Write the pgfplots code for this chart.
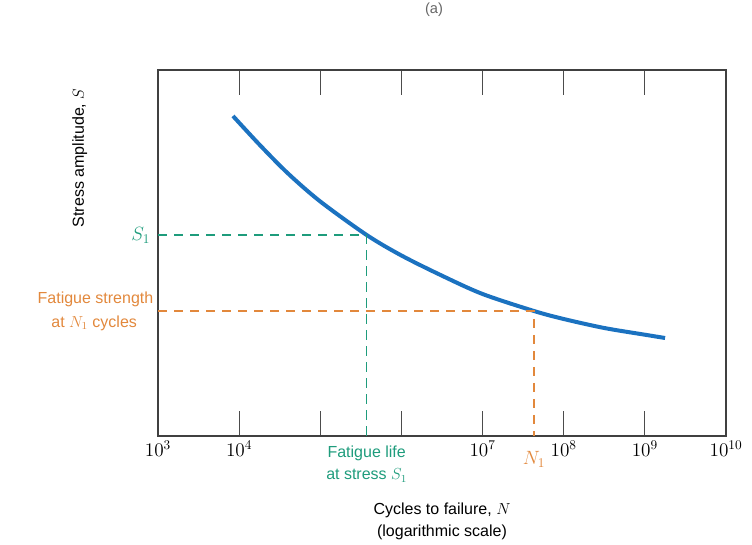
\documentclass[border=0pt]{standalone}
\usepackage{pgfplots}
\pgfplotsset{compat=1.18}
\usepackage{fontspec}
\setmainfont{Liberation Sans}
\definecolor{curveblue}{HTML}{1B72C0}
\definecolor{sgreen}{HTML}{1E9C7C}
\definecolor{norange}{HTML}{E2883C}

\begin{document}
\begin{tikzpicture}
\begin{axis}[
    scale only axis,
    width=426pt, height=274.5pt,
    xmode=log,
    xmin=1e3, xmax=1e10,
    ymin=0, ymax=366,
    xtick={1e3,1e4,1e5,1e6,1e7,1e8,1e9,1e10},
    xticklabels={$10^{3}$,$10^{4}$,,,$10^{7}$,$10^{8}$,$10^{9}$,$10^{10}$},
    xminorticks=false,
    ytick=\empty,
    tick align=inside,
    xtick pos=both,
    major tick length=19pt,
    every tick/.style={black!70, line width=0.8pt},
    axis line style={black!75, line width=0.9pt},
    tick label style={font=\fontsize{14}{16}\selectfont},
    xlabel={Cycles to failure, $N$\\(logarithmic scale)},
    xlabel style={align=center, font=\fontsize{12}{16.5}\selectfont,
        at={(axis description cs:0.5,-0.232)}, anchor=center},
    ylabel={Stress amplitude, $S$},
    ylabel style={font=\fontsize{12}{14}\selectfont,
        at={(axis description cs:-0.138,0.76)}, anchor=center, rotate=0},
    clip=false,
]
% S-N curve
\addplot[color=curveblue, line width=3pt, smooth] coordinates {
    (8395, 320) (17783, 291.4) (39811, 262.7) (1e5, 234.5) (373250, 201)
    (1e6, 180.5) (3.162e6, 160.3) (1e7, 142) (4.305e7, 125)
    (1e8, 117) (3.162e8, 108) (1e9, 101.3) (1.774e9, 98)
};
% fatigue life at stress S1
\addplot[color=sgreen, line width=1.1pt, dash pattern=on 7pt off 5pt] coordinates {
    (1e3, 201) (373250, 201) (373250, 0)
};
% fatigue strength at N1
\addplot[color=norange, line width=1.1pt, dash pattern=on 7pt off 5pt] coordinates {
    (1e3, 125) (4.305e7, 125) (4.305e7, 0)
};

\node[anchor=east, text=sgreen, font=\fontsize{14}{16}\selectfont]
    at (axis cs:1e3, 201) {$S_1$\,};
\node[anchor=east, align=center, text=norange, font=\fontsize{12}{18}\selectfont]
    at (axis cs:1e3, 125) {Fatigue strength\\at $N_1$ cycles\,};
\node[anchor=north, align=center, text=sgreen, font=\fontsize{12}{16.5}\selectfont]
    at ([yshift=-4pt]axis cs:373250, 0) {Fatigue life\\at stress $S_1$};
\node[anchor=north, text=norange, font=\fontsize{14}{16}\selectfont]
    at ([yshift=-8pt]axis cs:4.305e7, 0) {$N_1$};
\end{axis}
\node[font=\fontsize{11}{13}\selectfont, text=black!60] at (207pt, 320pt) {(a)};
\pgfresetboundingbox
\useasboundingbox (-118.5pt,-81pt) rectangle (445.5pt,327pt);
\end{tikzpicture}
\end{document}
